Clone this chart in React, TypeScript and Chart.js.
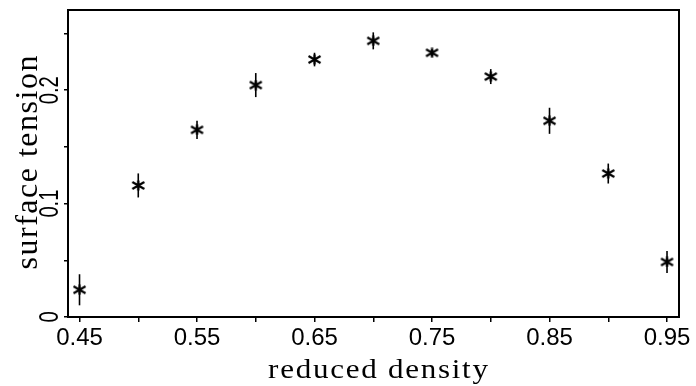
import React, { useEffect, useRef } from 'react';
import { Chart, registerables } from 'chart.js';

Chart.register(...registerables);

const densities = [0.45, 0.5, 0.55, 0.6, 0.65, 0.7, 0.75, 0.8, 0.85, 0.9, 0.95];
const tensions = [0.024, 0.116, 0.165, 0.2045, 0.227, 0.2435, 0.233, 0.212, 0.173, 0.1265, 0.0485];
const tensionErrors = [0.0137, 0.0106, 0.008, 0.0106, 0.006, 0.0075, 0.003, 0.0066, 0.0115, 0.0088, 0.0097];

const xTickValues = [0.45, 0.5, 0.55, 0.6, 0.65, 0.7, 0.75, 0.8, 0.85, 0.9, 0.95];
const xTickLabels = ['0.45', '', '0.55', '', '0.65', '', '0.75', '', '0.85', '', '0.95'];
const yTickValues = [0, 0.05, 0.1, 0.15, 0.2, 0.25];
const yTickLabels = ['0', '', '0.1', '', '0.2', ''];

const xTitle = 'reduced density';
const yTitle = 'surface tension';

const SANS = '"Liberation Sans", Arial, Helvetica, sans-serif';
const SERIF = '"Liberation Serif", "Times New Roman", serif';

function makeAsterisk(): HTMLCanvasElement {
  const c = document.createElement('canvas');
  c.width = 15;
  c.height = 11;
  const g = c.getContext('2d')!;
  g.strokeStyle = '#000';
  g.lineWidth = 2.2;
  g.beginPath();
  g.moveTo(7.5, 0.5);
  g.lineTo(7.5, 10.5);
  g.moveTo(1.5, 2);
  g.lineTo(13.5, 9);
  g.moveTo(1.5, 9);
  g.lineTo(13.5, 2);
  g.stroke();
  return c;
}

const decorPlugin = {
  id: 'decor',
  afterDatasetsDraw(chart: any) {
    const ctx = chart.ctx;
    const ys = chart.scales.y;
    const meta = chart.getDatasetMeta(0);
    ctx.save();
    ctx.strokeStyle = '#000';
    ctx.lineWidth = 1.6;
    meta.data.forEach((pt: any, i: number) => {
      const y1 = ys.getPixelForValue(tensions[i] - tensionErrors[i]);
      const y2 = ys.getPixelForValue(tensions[i] + tensionErrors[i]);
      ctx.beginPath();
      ctx.moveTo(pt.x, y1);
      ctx.lineTo(pt.x, y2);
      ctx.stroke();
    });
    ctx.restore();
  },
  afterDraw(chart: any) {
    const ctx = chart.ctx;
    const a = chart.chartArea;
    const ys = chart.scales.y;
    ctx.save();
    ctx.strokeStyle = '#000';
    ctx.lineWidth = 2;
    ctx.strokeRect(a.left, a.top, a.right - a.left, a.bottom - a.top);

    ctx.fillStyle = '#000';
    ctx.textAlign = 'center';
    ctx.textBaseline = 'alphabetic';

    // y tick labels (rotated)
    ctx.font = '28px ' + SANS;
    yTickValues.forEach((v, i) => {
      const lab = yTickLabels[i];
      if (!lab) return;
      const py = ys.getPixelForValue(v);
      ctx.save();
      ctx.translate(a.left - 10, py);
      ctx.rotate(-Math.PI / 2);
      ctx.scale(0.72, 1);
      ctx.fillText(lab, 0, 0);
      ctx.restore();
    });

    // y axis title
    ctx.font = '32px ' + SERIF;
    ctx.save();
    ctx.translate(37, (a.top + a.bottom) / 2 - 1);
    ctx.rotate(-Math.PI / 2);
    (ctx as any).letterSpacing = '1.5px';
    ctx.fillText(yTitle, 0.75, 0);
    ctx.restore();

    // x axis title
    ctx.font = '27px ' + SERIF;
    ctx.save();
    ctx.translate((a.left + a.right) / 2 + 4.5, 378);
    ctx.scale(1.15, 1);
    (ctx as any).letterSpacing = '1.5px';
    ctx.fillText(xTitle, 0.75, 0);
    ctx.restore();

    ctx.restore();
  },
};

export default function App() {
  const ref = useRef<HTMLCanvasElement | null>(null);

  useEffect(() => {
    if (!ref.current) return;
    const asterisk = makeAsterisk();
    const chart = new Chart(ref.current, {
      type: 'scatter',
      data: {
        datasets: [
          {
            data: densities.map((d, i) => ({ x: d, y: tensions[i] })),
            pointStyle: asterisk as any,
            showLine: false,
            borderColor: '#000',
            backgroundColor: '#000',
          },
        ],
      },
      options: {
        animation: false,
        responsive: false,
        maintainAspectRatio: false,
        layout: { padding: { left: 0, right: 17, top: 10, bottom: 0 } },
        plugins: { legend: { display: false }, tooltip: { enabled: false } },
        scales: {
          x: {
            type: 'linear',
            min: 0.4402,
            max: 0.9602,
            afterBuildTicks: (s: any) => {
              s.ticks = xTickValues.map((v) => ({ value: v }));
            },
            afterFit: (s: any) => {
              s.height = 69;
            },
            border: { display: false },
            grid: { drawOnChartArea: false, drawTicks: true, tickLength: 5, color: '#000', lineWidth: 1.5 },
            ticks: {
              autoSkip: false,
              maxRotation: 0,
              minRotation: 0,
              padding: 2,
              color: '#000',
              font: { family: SANS, size: 24 },
              callback: (_v: any, i: number) => xTickLabels[i],
            },
          },
          y: {
            type: 'linear',
            min: 0,
            max: 0.2707,
            afterBuildTicks: (s: any) => {
              s.ticks = yTickValues.map((v) => ({ value: v }));
            },
            afterFit: (s: any) => {
              s.width = 68;
            },
            border: { display: false },
            grid: { drawOnChartArea: false, drawTicks: true, tickLength: 4, color: '#000', lineWidth: 1.5 },
            ticks: { display: false },
          },
        },
      },
      plugins: [decorPlugin],
    });
    return () => chart.destroy();
  }, []);

  return (
    <div style={{ position: 'absolute', left: 0, top: 0, width: 696, height: 386, background: '#fff' }}>
      <canvas ref={ref} width={696} height={386} style={{ display: 'block' }} />
    </div>
  );
}
